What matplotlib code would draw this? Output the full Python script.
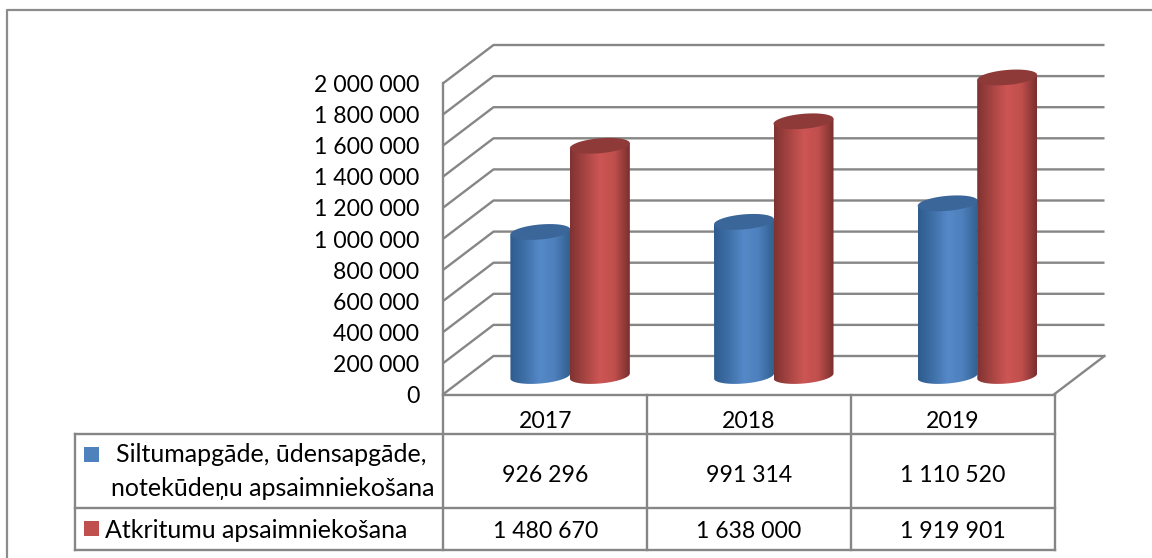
import matplotlib.pyplot as plt, numpy as np
from matplotlib.colors import LinearSegmentedColormap
from matplotlib.patches import Polygon, Rectangle

plt.rcParams['font.family'] = ['Lato', 'DejaVu Sans']

years = ['2017', '2018', '2019']
series_names = ['Siltumapgāde, ūdensapgāde,\nnotekūdeņu apsaimniekošana', 'Atkritumu apsaimniekošana']
heat_water = [926296, 991314, 1110520]
waste = [1480670, 1638000, 1919901]
heat_labels = ['926 296', '991 314', '1 110 520']
waste_labels = ['1 480 670', '1 638 000', '1 919 901']
ticks = [0, 200000, 400000, 600000, 800000, 1000000, 1200000, 1400000, 1600000, 1800000, 2000000]
tick_labels = ['0', '200 000', '400 000', '600 000', '800 000', '1 000 000', '1 200 000', '1 400 000', '1 600 000', '1 800 000', '2 000 000']

W, H = 1152, 558
PX_X = 203.67       # pixels per category
PX_Y = 155.5e-6     # pixels per unit value
X0, Y0 = 443.5, 394
DX, DY = 50, 38     # depth of the 3d box
GRID = '#868686'

def dx(p): return p / PX_X
def up(p): return p / PX_Y
def fx(p): return (p - X0) / PX_X
def fy(p): return (Y0 - p) / PX_Y

fig = plt.figure(figsize=(W / 100, H / 100), dpi=100)
ax = fig.add_axes([0, 0, 1, 1])
ax.set_xlim(fx(0), fx(W))
ax.set_ylim(fy(H), fy(0))
ax.axis('off')

# outer frame, only top and left are inside the crop
ax.plot([fx(6.5), fx(6.5), fx(W)], [fy(H), fy(9.5), fy(9.5)], color='#8c8c8c', lw=1.6, zorder=1)

# walls
for t in ticks:
    ax.plot([0, dx(DX), 3 + dx(DX)], [t, t + up(DY), t + up(DY)], color=GRID, lw=1.7, zorder=2, solid_capstyle='butt')
ax.plot([3, 3 + dx(DX)], [0, up(DY)], color=GRID, lw=1.7, zorder=2)
ax.plot([0, 0], [0, ticks[-1]], color=GRID, lw=1.7, zorder=2)

for t, lab in zip(ticks, tick_labels):
    ax.text(fx(419.5), t - up(2.5), lab, ha='right', va='center', fontsize=16.6, color='black', zorder=5)

# cylinders
blue = LinearSegmentedColormap.from_list('b', ['#2f5c8f', '#3f70a8', '#5589c8', '#4d80bc', '#33608f'])
red = LinearSegmentedColormap.from_list('r', ['#7f3331', '#a84543', '#cd5654', '#bf4f4c', '#7a302e'])
grad = np.linspace(0, 1, 64).reshape(1, -1)
tt = np.linspace(0, 2 * np.pi, 73)

def cylinder(x_center, value, cmap, top_col, z):
    a, b, tilt = dx(30), 7.5, 2.5 / 30
    base = up(18)   # base centre sits 18 px behind the front floor line
    ex = a * np.cos(tt)
    ey = up(b) * np.sin(tt) + up(tilt * 30) * np.cos(tt)
    low = np.sin(tt) <= 0
    order = np.argsort(ex[low])
    bx, by = ex[low][order], ey[low][order]
    body = np.concatenate([[[-a, value + base + ey[36]]],
                           np.column_stack([bx, base + by]),
                           [[a, value + base + ey[0]]]])
    body[:, 0] += x_center
    patch = Polygon(body, closed=True, fc='none', ec='none', zorder=z)
    ax.add_patch(patch)
    im = ax.imshow(grad, extent=[x_center - a, x_center + a, base - up(12), value + base + up(12)],
                   cmap=cmap, aspect='auto', zorder=z, interpolation='bilinear')
    im.set_clip_path(patch)
    ax.fill(x_center + ex, value + base + ey, color=top_col, zorder=z + 0.1, lw=0)

for i in range(3):
    c = i + 0.5 + dx(24.5)
    cylinder(c - dx(29.5), heat_water[i], blue, '#3a6699', 3 + i)
    cylinder(c + dx(30), waste[i], red, '#8e3a38', 3.5 + i)
ax.set_xlim(fx(0), fx(W))
ax.set_ylim(fy(H), fy(0))

# data table
rows = [fy(394.5), fy(434), fy(508), fy(550)]
ax.plot([0, 3], [rows[0], rows[0]], color=GRID, lw=1.7, zorder=8)
for r in rows[1:]:
    ax.plot([fx(75), 3], [r, r], color=GRID, lw=1.7, zorder=8)
ax.plot([fx(75), fx(75)], [rows[1], rows[3]], color=GRID, lw=1.7, zorder=8)
for i in range(4):
    ax.plot([i, i], [rows[0], rows[3]], color=GRID, lw=1.7, zorder=8)

for i in range(3):
    ax.text(i + 0.5, fy(421), years[i], ha='center', va='center', fontsize=16.6, zorder=9)
    ax.text(i + 0.5, fy(475), heat_labels[i], ha='center', va='center', fontsize=16.6, zorder=9)
    ax.text(i + 0.5, fy(532), waste_labels[i], ha='center', va='center', fontsize=16.6, zorder=9)

ax.add_patch(Rectangle((fx(84), fy(462)), dx(15), up(15), fc='#4f81bd', ec='none', zorder=9))
ax.add_patch(Rectangle((fx(84), fy(536)), dx(15), up(15), fc='#c0504d', ec='none', zorder=9))
names = series_names[0].split('\n')
ax.text(fx(271), fy(455), names[0], ha='center', va='center', fontsize=18, zorder=9)
ax.text(fx(273), fy(489), names[1], ha='center', va='center', fontsize=18, zorder=9)
ax.text(fx(105), fy(530), series_names[1], ha='left', va='center', fontsize=18, zorder=9)

fig.savefig('out.png', dpi=100)
plt.close()
